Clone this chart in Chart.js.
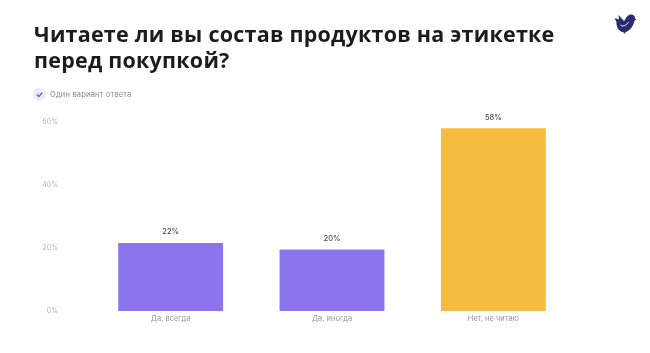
<!DOCTYPE html>
<html lang="ru">
<head>
<meta charset="utf-8">
<title>Читаете ли вы состав продуктов на этикетке перед покупкой?</title>
<script src="https://cdn.jsdelivr.net/npm/chart.js@4"></script>
<style>
  html, body { margin: 0; padding: 0; background: #fff; }
  #wrap { position: relative; width: 650px; height: 353px; overflow: hidden; font-family: Inter, sans-serif; }
  #chart { position: absolute; left: 0; top: 0; }
  h1 { position: absolute; left: 34px; top: 21px; margin: 0; font-family: "Open Sans", sans-serif; font-size: 21.5px; line-height: 26px; font-weight: 700; letter-spacing: 0.23px; color: #1c1c1e; white-space: nowrap; }
  #note { position: absolute; left: 50px; top: 90px; font-size: 7.5px; line-height: 9px; letter-spacing: 0.2px; color: #8a8a8f; white-space: nowrap; }
  #check { position: absolute; left: 33px; top: 88px; }
  #logo { position: absolute; left: 612px; top: 12px; }
</style>
</head>
<body>
<div id="wrap">
  <canvas id="chart" width="650" height="353"></canvas>
  <h1>Читаете ли вы состав продуктов на этикетке<br>перед покупкой?</h1>
  <svg id="check" width="13" height="13" viewBox="0 0 13 13">
    <circle cx="6.5" cy="6.5" r="6.5" fill="#eeeafc"/>
    <path d="M3.8 6.6 L5.8 8.6 L9.2 4.8" fill="none" stroke="#6f55d8" stroke-width="1.4"/>
  </svg>
  <div id="note">Один вариант ответа</div>
  <svg id="logo" width="26" height="24" viewBox="0 0 26 24">
    <path d="M2.5 6 L7 7.5 L6.5 3 L12 9 C13.5 8 14 3.5 18.5 2.5 C21 2.2 23.5 4 23 6.5 L24.5 7.5 L22.5 8.5 C21.5 14 18 19 13.5 20 L13 22 L11 20 C7 19.5 4 15 4.5 10 Z" fill="#2a2a6e"/>
    <path d="M8.5 13 C11 15 14 14 16.5 10" fill="none" stroke="#fff" stroke-width="1"/>
  </svg>
</div>
<script>
const categories = ['Да, всегда', 'Да, иногда', 'Нет, не читаю'];
const values = [21.6, 19.5, 58];
const barColors = ['#8b75ee', '#8b75ee', '#f5bc40'];
const tickValues = [0, 20, 40, 60];

// percent labels above the bars
const barLabels = {
  id: 'barLabels',
  afterDatasetsDraw(chart) {
    const ctx = chart.ctx;
    ctx.save();
    ctx.font = '500 7.5px Inter, sans-serif';
    ctx.fillStyle = '#4a4a4e';
    ctx.textAlign = 'center';
    ctx.textBaseline = 'middle';
    chart.getDatasetMeta(0).data.forEach((bar, i) => {
      ctx.fillText(Math.round(values[i]) + '%', bar.x, bar.y - 11);
    });
    ctx.restore();
  }
};

new Chart(document.getElementById('chart'), {
  type: 'bar',
  data: {
    labels: categories,
    datasets: [{ data: values, backgroundColor: barColors, barPercentage: 0.65, categoryPercentage: 1 }]
  },
  options: {
    responsive: false,
    animation: false,
    layout: { padding: { top: 122, right: 76, left: 0, bottom: 0 } },
    plugins: { legend: { display: false }, tooltip: { enabled: false }, title: { display: false } },
    scales: {
      x: {
        grid: { display: false, drawTicks: false },
        border: { display: false },
        afterFit: scale => { scale.height = 42; },
        ticks: { color: '#97979c', font: { size: 7.5, family: 'Inter, sans-serif' }, padding: 3, maxRotation: 0 }
      },
      y: {
        min: 0,
        max: 60,
        grid: { display: false, drawTicks: false },
        border: { display: false },
        afterFit: scale => { scale.width = 90; },
        afterBuildTicks: scale => { scale.ticks = tickValues.map(v => ({ value: v })); },
        ticks: { color: '#b4b4b8', font: { size: 7, family: 'Inter, sans-serif' }, padding: 32, callback: v => v + '%' }
      }
    }
  },
  plugins: [barLabels]
});
</script>
</body>
</html>
